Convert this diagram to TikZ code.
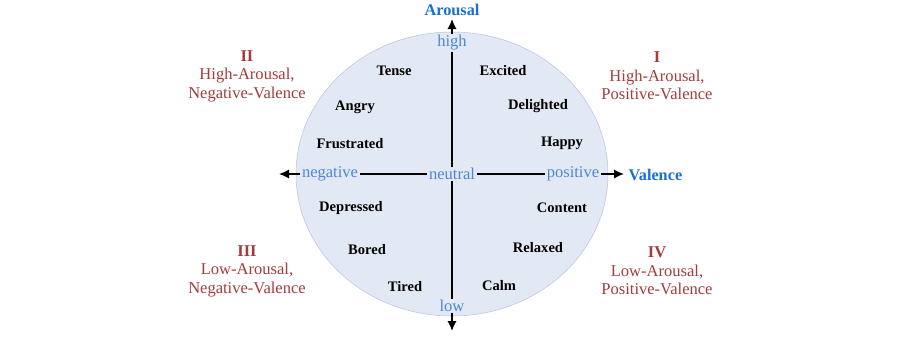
\documentclass[tikz,border=0pt]{standalone}
\usepackage{fontspec}
\setmainfont{Liberation Serif}
\usetikzlibrary{arrows.meta}

\begin{document}
\begin{tikzpicture}[x=0.75pt,y=-0.75pt,
	emo/.style={font=\bfseries\fontsize{10.9}{12}\selectfont, inner sep=0pt},
	pole/.style={text=POLE, fill=DISC, inner sep=1pt, font=\fontsize{12.4}{14}\selectfont},
	axname/.style={text=AXIS, inner sep=1pt, font=\bfseries\fontsize{12.2}{14}\selectfont},
	quad/.style={text=QUAD, align=center, font=\fontsize{12.4}{13.9}\selectfont},
	axline/.style={line width=1.3pt},
	axarrow/.style={axline, -{Latex[length=7.5pt,width=7pt]}}]
\definecolor{DISC}{HTML}{E3E9F4}
\definecolor{DISCB}{HTML}{B7C5DE}
\definecolor{POLE}{HTML}{4A86D8}
\definecolor{AXIS}{HTML}{1A6FD1}
\definecolor{QUAD}{HTML}{A33B3B}

\useasboundingbox (0,0) rectangle (907,362);

% Circumplex disc
\filldraw[fill=DISC, draw=DISCB, line width=0.4pt] (452,174) ellipse [x radius=156, y radius=142];

% Pole labels on the axes
\node[pole] (high) at (452,43) {high};
\node[pole] (low) at (452,306) {low};
\node[pole] (neg) at (330,174) {negative};
\node[pole] (neu) at (452,174) {neutral};
\node[pole] (pos) at (573,174) {positive};

\coordinate (top) at (452,19);
\coordinate (bot) at (452,331);
\coordinate (left) at (279,174);
\coordinate (right) at (624,174);

% Axes
\draw[axarrow] (high) -- (top);
\draw[axline] (high) -- (neu);
\draw[axline] (neu) -- (low);
\draw[axarrow] (low) -- (bot);
\draw[axarrow] (neg) -- (left);
\draw[axline] (neg) -- (neu);
\draw[axline] (neu) -- (pos);
\draw[axarrow] (pos) -- (right);

\node[axname] (arousal) at (452,10) {Arousal};
\node[axname, anchor=west] (valence) at (627,175) {Valence};

% Quadrants
\node[quad] (q1) at (657,76) {\textbf{I}\\High-Arousal,\\Positive-Valence};
\node[quad] (q2) at (247,76) {\textbf{II}\\High-Arousal,\\Negative-Valence};
\node[quad] (q3) at (247,271) {\textbf{III}\\Low-Arousal,\\Negative-Valence};
\node[quad] (q4) at (657,271) {\textbf{IV}\\Low-Arousal,\\Positive-Valence};

% Emotions
\foreach \x/\y/\t in {394/71/Tense,503/71/Excited,355/107/Angry,538/106/Delighted,
	350/144/Frustrated,562/143/Happy,351/208/Depressed,562/208/Content,
	367/250/Bored,538/248/Relaxed,405/287/Tired,499/286/Calm}{
	\node[emo] (\t) at (\x,\y) {\t};
}

\end{tikzpicture}
\end{document}
